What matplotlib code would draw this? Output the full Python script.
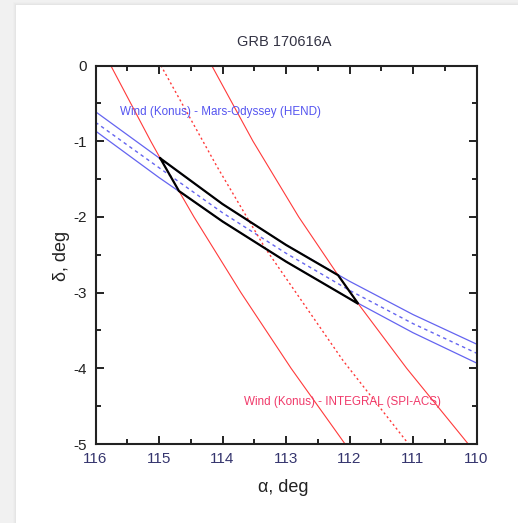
import matplotlib
matplotlib.use("Agg")
import matplotlib.pyplot as plt
from matplotlib.patches import Rectangle
from matplotlib.ticker import MultipleLocator

plt.rcParams['font.family'] = ['Liberation Sans', 'DejaVu Sans']
plt.rcParams['axes.unicode_minus'] = False

# ---- data ----
# Wind (Konus) - Mars-Odyssey (HEND) annulus (blue)
blue_alpha = [116, 115, 114, 113, 112, 111, 110]
blue_upper = [-0.61, -1.22, -1.83, -2.37, -2.85, -3.29, -3.68]
blue_center = [-0.75, -1.35, -1.945, -2.48, -2.97, -3.41, -3.80]
blue_lower = [-0.865, -1.48, -2.06, -2.59, -3.08, -3.53, -3.93]

# Wind (Konus) - INTEGRAL (SPI-ACS) annulus (red)
red_left_alpha = [115.76, 115.13, 114.98, 114.686, 114.45, 113.71, 112.92, 112.07]
red_left_delta = [0.0, -1.0, -1.226, -1.658, -2.0, -3.0, -4.0, -5.0]
red_mid_alpha = [114.97, 114.09, 113.33, 112.1, 111.07]
red_mid_delta = [0.0, -1.33, -2.41, -3.9, -5.0]
red_right_alpha = [114.17, 113.52, 112.80, 112.18, 111.86, 111.10, 110.13]
red_right_delta = [0.0, -1.0, -2.0, -2.77, -3.15, -4.0, -5.0]

# localisation region (black)
box_alpha = [114.98, 114.0, 113.0, 112.18, 111.86, 112.0, 113.0, 114.0, 114.686, 114.98]
box_delta = [-1.226, -1.83, -2.37, -2.77, -3.15, -3.08, -2.59, -2.06, -1.658, -1.226]

x_ticks = [116, 115, 114, 113, 112, 111, 110]
y_ticks = [0, -1, -2, -3, -4, -5]

W, H = 518, 523
fig = plt.figure(figsize=(W / 100, H / 100), dpi=100, facecolor='#f1f1f1')

# card background with soft shadow
for i, a in enumerate([0.04, 0.05, 0.07]):
    fig.patches.append(Rectangle(((16 - 3 + i) / W, 0), 1, (H - 5 + 3 - i) / H,
                                 transform=fig.transFigure, facecolor='#b0b0b0',
                                 alpha=a, edgecolor='none', zorder=-20))
fig.patches.append(Rectangle((16 / W, 0), 1, (H - 5) / H, transform=fig.transFigure,
                             facecolor='white', edgecolor='none', zorder=-10))

ax = fig.add_axes([95.5 / W, 1 - 444 / H, 381 / W, 378.5 / H])
ax.set_zorder(5)
ax.set_facecolor('white')

red = '#ff3a3a'
blue = '#6464f0'

ax.plot(blue_alpha, blue_upper, color=blue, lw=0.9)
ax.plot(blue_alpha, blue_lower, color=blue, lw=0.9)
ax.plot(blue_alpha, blue_center, color=blue, lw=1.0, ls=(0, (2.5, 2.5)))

ax.plot(red_left_alpha, red_left_delta, color=red, lw=0.8)
ax.plot(red_right_alpha, red_right_delta, color=red, lw=0.8)
ax.plot(red_mid_alpha, red_mid_delta, color=red, lw=1.0, ls=(0, (1.5, 2.0)))

ax.plot(box_alpha, box_delta, color='black', lw=1.6, solid_joinstyle='miter')

ax.text(115.62, -0.61, 'Wind (Konus) - Mars-Odyssey (HEND)', color='#5555f0',
        fontsize=8.4, va='center', ha='left')
ax.text(113.66, -4.45, 'Wind (Konus) - INTEGRAL (SPI-ACS)', color='#f03a6a',
        fontsize=8.4, va='center', ha='left')

ax.set_xlim(116, 110)
ax.set_ylim(-5, 0)
ax.set_xticks(x_ticks)
ax.set_yticks(y_ticks)
ax.set_xticklabels([str(v) for v in x_ticks])
ax.set_yticklabels([str(v) for v in y_ticks])
ax.xaxis.set_minor_locator(MultipleLocator(0.5))
ax.yaxis.set_minor_locator(MultipleLocator(0.5))
ax.tick_params(which='both', direction='in', top=True, right=True, width=1.4, color='#222222')
ax.tick_params(which='major', length=6)
ax.tick_params(which='minor', length=3.5)
ax.tick_params(axis='x', which='major', labelsize=11, labelcolor='#35356e', pad=6)
ax.tick_params(axis='y', which='major', labelsize=11, labelcolor='#222222', pad=6)
for s in ax.spines.values():
    s.set_linewidth(1.5)
    s.set_color('#222222')

fig.text(283 / W, 1 - 488 / H, 'α, deg', fontsize=13, ha='center', va='center', color='#222222')
fig.text(62 / W, 1 - 256 / H, 'δ, deg', fontsize=13, ha='center', va='center',
         rotation=90, color='#222222')
fig.text(284 / W, 1 - 42 / H, 'GRB 170616A', fontsize=10.5, ha='center', va='center',
         color='#333344')

fig.savefig('out.png', dpi=100, facecolor=fig.get_facecolor())
